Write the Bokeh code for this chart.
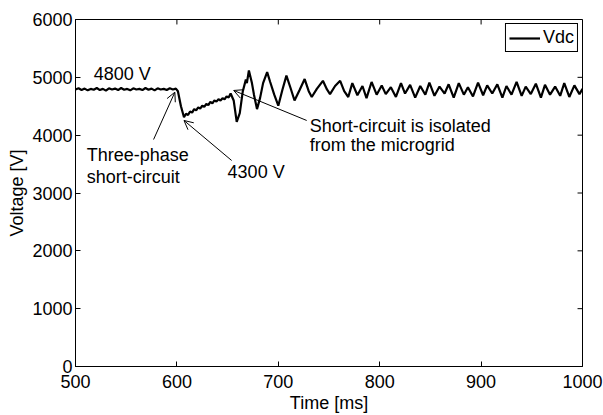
from bokeh.plotting import figure
from bokeh.models import (ColumnDataSource, FixedTicker, Range1d,
                          Arrow, OpenHead, Legend, LegendItem, Label)
from bokeh.embed import file_html
from bokeh.resources import INLINE

# ---------------- data ----------------
time_ms = [
    500, 503, 506, 509, 512, 515, 518, 521, 524, 527, 530, 533, 536, 539, 542,
    545, 548, 551, 554, 557, 560, 563, 566, 569, 572, 575, 578, 581, 584, 587,
    590, 593, 596, 599,
    601, 604, 607,
    609, 611, 613, 615, 617, 619, 621, 623, 625, 627, 629, 631, 633, 635, 637,
    639, 641, 643, 645, 647, 649, 651, 653,
    656, 659, 662, 665, 668, 669, 671, 674, 676, 679, 682, 685, 689, 692, 696,
    700, 704, 708, 712, 716, 721, 726, 730, 733, 738, 744, 748, 751, 756, 761,
    765, 769, 773, 778, 783, 787, 792, 797, 802, 806, 811, 816, 821, 825, 830,
    835, 840, 845, 849, 854, 859, 864, 868, 873, 878, 883, 887, 892, 897, 902,
    906, 911, 916, 921, 925, 930, 935, 940, 944, 949, 954, 959, 963, 968, 973,
    978, 982, 987, 992, 997, 1000,
]
vdc = [
    4790, 4810, 4780, 4805, 4775, 4800, 4785, 4815, 4780, 4800, 4770, 4810, 4790, 4805, 4780,
    4815, 4785, 4800, 4775, 4810, 4790, 4800, 4780, 4815, 4785, 4805, 4775, 4810, 4790, 4800,
    4780, 4810, 4790, 4805,
    4760, 4500, 4310,
    4370, 4350, 4410, 4390, 4450, 4430, 4480, 4460, 4510, 4490, 4540, 4520, 4575, 4550, 4600,
    4580, 4620, 4600, 4640, 4620, 4670, 4650, 4720,
    4600, 4230, 4380, 4760, 4960, 4900, 5120, 4900, 4700, 4450, 4640, 4900, 5090, 4920, 4700,
    4510, 4780, 5030, 4820, 4600, 4780, 4970, 4760, 4660, 4800, 4940, 4790, 4710, 4850, 4940,
    4760, 4660, 4900, 4690, 4850, 4640, 4920, 4700, 4860, 4710, 4830, 4660, 4900, 4720, 4870,
    4650, 4850, 4700, 4910, 4680, 4840, 4720, 4880, 4650, 4900, 4700, 4830, 4670, 4910, 4690,
    4860, 4720, 4880, 4650, 4850, 4700, 4920, 4680, 4840, 4710, 4890, 4650, 4870, 4700, 4840,
    4680, 4900, 4660, 4860, 4710, 4800,
]
x_ticks = [500, 600, 700, 800, 900, 1000]
y_ticks = [0, 1000, 2000, 3000, 4000, 5000, 6000]
series_name = "Vdc"
x_label = "Time [ms]"
y_label = "Voltage [V]"

FONT = "Liberation Sans"
X0, X1, Y0, Y1 = 500, 1000, 0, 6000

src = ColumnDataSource(data=dict(t=time_ms, v=vdc))

p = figure(width=603, height=415, output_backend="svg", toolbar_location=None,
           x_range=Range1d(X0, X1), y_range=Range1d(Y0, Y1),
           min_border_left=75, min_border_right=21, min_border_top=19,
           min_border_bottom=49)
p.xgrid.visible = False
p.ygrid.visible = False
p.outline_line_color = "black"
p.outline_line_alpha = 1
p.outline_line_width = 1
p.background_fill_color = "white"
p.border_fill_color = "white"

for ax, ticks in ((p.xaxis[0], x_ticks), (p.yaxis[0], y_ticks)):
    ax.ticker = FixedTicker(ticks=ticks)
    ax.axis_line_color = "black"
    ax.major_tick_line_color = "black"
    ax.major_tick_in = 5
    ax.major_tick_out = 0
    ax.minor_tick_line_color = None
    ax.major_label_text_font = FONT
    ax.major_label_text_font_size = "18px"
    ax.major_label_text_color = "black"
    ax.axis_label_text_font = FONT
    ax.axis_label_text_font_size = "18px"
    ax.axis_label_text_font_style = "normal"
    ax.axis_label_text_color = "black"

p.xaxis[0].axis_label = x_label
p.yaxis[0].axis_label = y_label
p.xaxis[0].major_label_standoff = 8
p.xaxis[0].axis_label_standoff = 2
p.yaxis[0].major_label_standoff = 3
p.yaxis[0].axis_label_standoff = 2

# inward tick marks on the top and right sides of the box (MATLAB style)
tick_len_y = 86   # ~5 px in volts
tick_len_x = 4.9  # ~5 px in ms
p.segment(x0=x_ticks, y0=[Y1] * len(x_ticks), x1=x_ticks,
          y1=[Y1 - tick_len_y] * len(x_ticks), line_color="black", line_width=1)
p.segment(x0=[X1] * len(y_ticks), y0=y_ticks, x1=[X1 - tick_len_x] * len(y_ticks),
          y1=y_ticks, line_color="black", line_width=1)

r = p.line("t", "v", source=src, line_color="black", line_width=2.2)

legend = Legend(items=[LegendItem(label=series_name, renderers=[r])],
                location="top_right", margin=4, padding=3, spacing=0,
                glyph_width=31, glyph_height=20, label_height=20,
                label_standoff=3, label_text_font=FONT,
                label_text_font_size="18px", label_text_color="black",
                border_line_color="black", border_line_width=1,
                border_line_alpha=1, background_fill_color="white",
                background_fill_alpha=1)
p.add_layout(legend)

def add_label(x, y, text):
    p.add_layout(Label(x=x, y=y, text=text, text_font=FONT,
                       text_font_size="18px", text_color="black",
                       text_align="left", text_baseline="middle"))

add_label(518, 5066, "4800 V")
add_label(511, 3649, "Three-phase")
add_label(511, 3285, "short-circuit")
add_label(650, 3360, "4300 V")
add_label(731, 4167, "Short-circuit is isolated")
add_label(731, 3822, "from the microgrid")

def add_arrow(xs, ys, xe, ye):
    p.add_layout(Arrow(end=OpenHead(size=9, line_width=1, line_color="black"),
                       x_start=xs, y_start=ys, x_end=xe, y_end=ye,
                       line_color="black", line_width=1))

add_arrow(577, 3925, 598, 4743)
add_arrow(654, 3562, 607, 4254)
add_arrow(728, 4254, 656, 4773)

open("out.html", "w").write(file_html(p, INLINE))
